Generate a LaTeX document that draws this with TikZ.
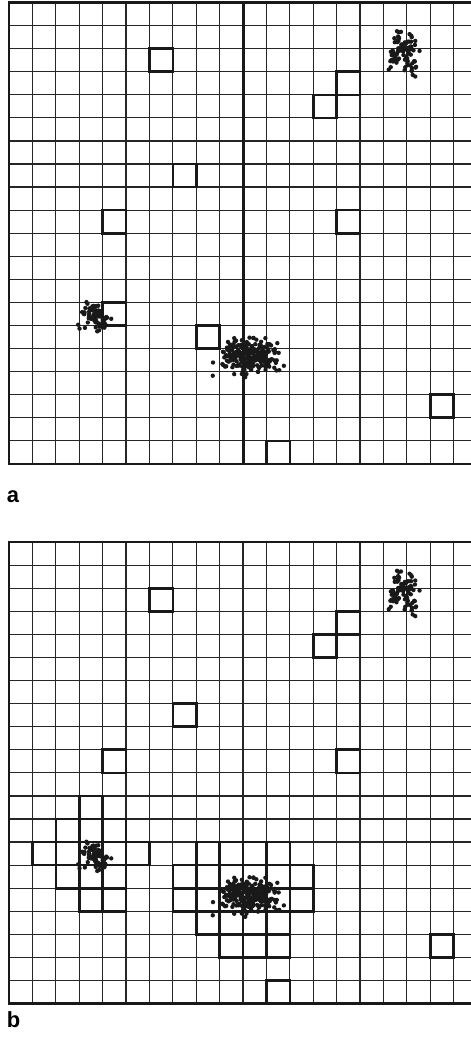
\documentclass[tikz,border=0pt]{standalone}
\usepackage{fontspec}
\setsansfont{Liberation Sans}

% the three point clouds, same seed in both panels
\newcommand{\drawclouds}{%
  \pgfmathsetseed{4217}%
  \foreach \n/\cx/\cy/\sx/\sy in {90/16.9/17.8/0.32/0.47, 70/3.65/6.35/0.28/0.32, 230/10.25/4.7/0.58/0.38}{%
    \foreach \i in {1,...,\n}{%
      \pgfmathsetmacro{\px}{\cx+\sx*(rand+rand+rand)}%
      \pgfmathsetmacro{\py}{\cy+\sy*(rand+rand+rand)}%
      \fill[black!90] (\px,\py) circle (1.6pt);
    }}}

\begin{document}
\begin{tikzpicture}[x=0.6cm,y=0.5915cm,line cap=rect,
  gridline/.style={black!85,line width=0.9pt},
  frame/.style={black!90,line width=1.8pt},
  cellbox/.style={black!90,line width=1.9pt},
  panellabel/.style={font=\sffamily\bfseries\fontsize{16}{19}\selectfont,anchor=base west,inner sep=0pt}]
\useasboundingbox (-0.385,-24.97) rectangle (19.74,20.11);
\clip (-0.385,-24.97) rectangle (19.74,20.11);

% panel a
\begin{scope}
\draw[gridline] (0,0) grid[step={(1,1)}] (20,20);
\draw[frame] (0,0) rectangle (20,20);
\draw[black!90,line width=2.2pt] (10,0) -- (10,20);
\foreach \c/\r in {6/17,14/16,13/15,7/12,4/10,14/10,4/6,8/5,11/0,18/2}
  \draw[cellbox] (\c,\r) rectangle ++(1,1);
\drawclouds
\node[panellabel] (labela) at (-0.1,-1.69) {a};
\end{scope}

% panel b
\begin{scope}[yshift=-23.39*0.5915cm]
\draw[gridline] (0,0) grid[step={(1,1)}] (20,20);
\draw[frame] (0,0) rectangle (20,20);
\foreach \c/\r in {6/17,14/16,13/15,7/12,4/10,14/10,11/0,18/2}
  \draw[cellbox] (\c,\r) rectangle ++(1,1);
% neighbourhood of the left cloud
\foreach \c/\r in {3/8, 2/7,3/7,4/7, 1/6,2/6,3/6,4/6,5/6, 2/5,3/5,4/5, 3/4,4/4}
  \draw[cellbox] (\c,\r) rectangle ++(1,1);
% neighbourhood of the middle cloud
\foreach \c/\r in {8/6,9/6,10/6,11/6, 7/5,8/5,9/5,10/5,11/5,12/5,
                   7/4,8/4,9/4,10/4,11/4,12/4, 8/3,9/3,10/3,11/3, 9/2,10/2,11/2}
  \draw[cellbox] (\c,\r) rectangle ++(1,1);
\drawclouds
\node[panellabel] (labelb) at (-0.1,-1.05) {b};
\end{scope}
\end{tikzpicture}
\end{document}
